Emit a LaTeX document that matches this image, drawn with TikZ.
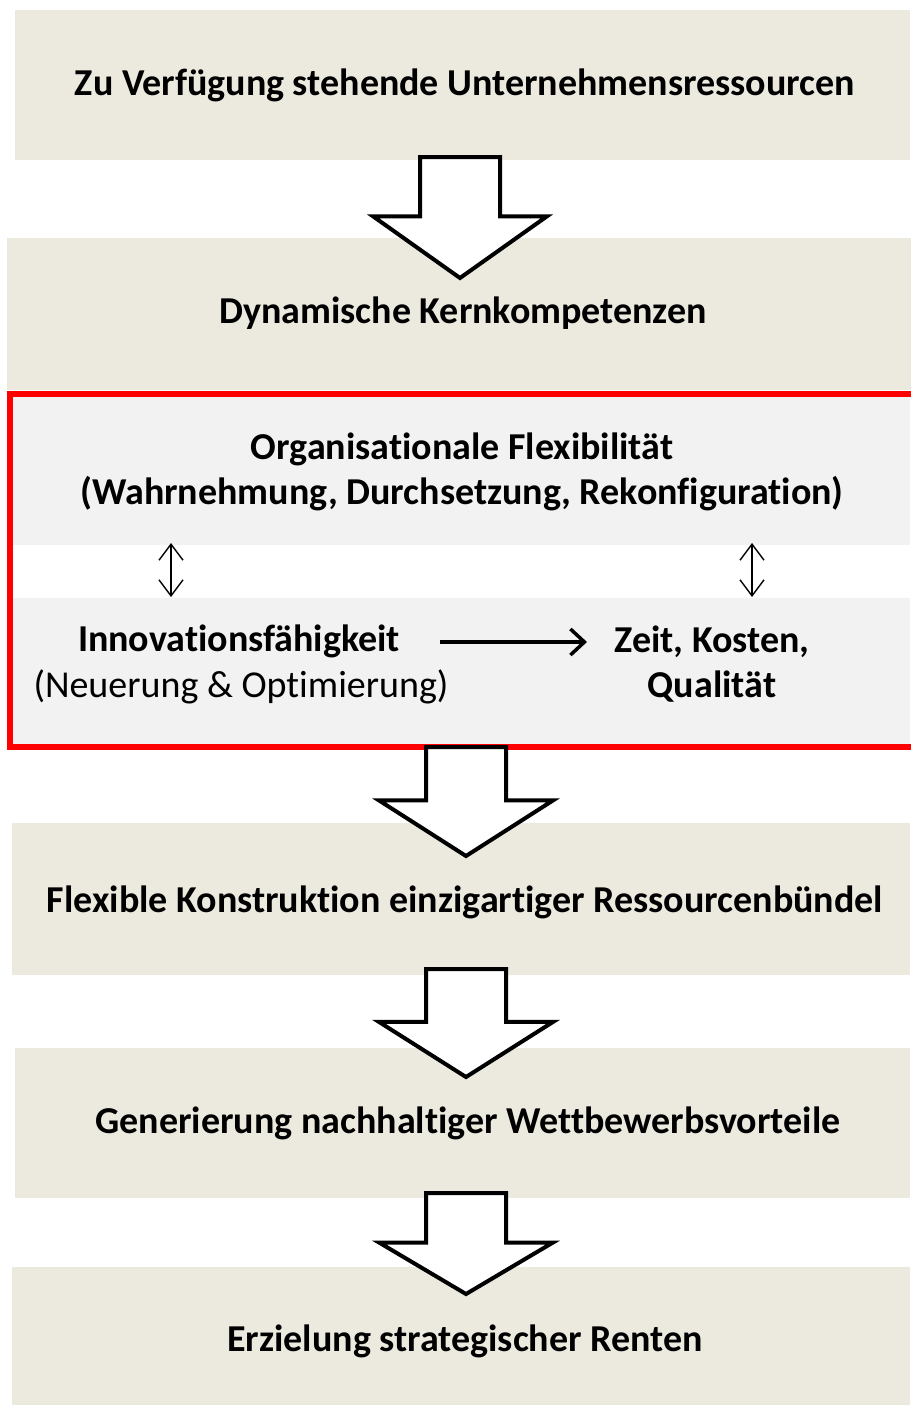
\documentclass[tikz,border=0pt]{standalone}
\usepackage{fontspec}
\setmainfont{Carlito}[Ligatures=NoCommon]
\usetikzlibrary{arrows.meta,calc}

\definecolor{stagebg}{HTML}{ECE9DF}
\definecolor{innerbg}{HTML}{F2F2F2}
\definecolor{frame}{HTML}{FF0000}

\tikzset{
  stagebox/.style={fill=stagebg, draw=none, inner sep=0pt, anchor=north west},
  innerbox/.style={fill=innerbg, draw=none, inner sep=0pt, anchor=north west},
  label/.style={font=\fontsize{38}{45}\selectfont\bfseries, inner sep=0pt, align=center},
  sublabel/.style={font=\fontsize{38}{45}\selectfont, inner sep=0pt, align=center},
  blockarrow/.style={draw=black, fill=white, line width=4pt, line join=miter},
  twoway/.style={line width=1.4pt, {Straight Barb[length=16pt,width=24pt,line width=1.4pt]}-{Straight Barb[length=16pt,width=24pt,line width=1.4pt]}},
  leadsto/.style={line width=3.5pt, -{Straight Barb[length=14pt,width=26pt,line width=3.5pt]}},
  redframe/.style={draw=frame, line width=6pt}
}

% hollow downward block arrow from a start coordinate to its tip
\newcommand\blockarrow[2]{%
  \draw[blockarrow] let \p1=(#1), \p2=(#2), \n1={\y1+0.49*(\y2-\y1)} in
    (\x1-40pt,\y1) -- (\x1+40pt,\y1) -- (\x1+40pt,\n1) -- (\x1+87pt,\n1)
    -- (\x2,\y2) -- (\x1-87pt,\n1) -- (\x1-40pt,\n1) -- cycle;}

\begin{document}
\begin{tikzpicture}[x=1pt,y=-1pt]
\useasboundingbox (0,0) rectangle (910,1405);
\fill[white] (0,0) rectangle (910,1405);

% stage boxes
\node[stagebox, minimum width=895pt, minimum height=150pt] (b1) at (15,10) {};
\node[stagebox, minimum width=905pt, minimum height=152pt] (b2) at (7,238) {};
\node[innerbox, minimum width=900pt, minimum height=150pt] (flex) at (10,395) {};
\node[innerbox, minimum width=900pt, minimum height=148pt] (inno) at (10,598) {};
\node[stagebox, minimum width=898pt, minimum height=152pt] (b3) at (12,823) {};
\node[stagebox, minimum width=895pt, minimum height=150pt] (b4) at (15,1048) {};
\node[stagebox, minimum width=898pt, minimum height=150pt] (b5) at (12,1267) {};

% red frame around the flexibility block (open to the right page edge)
\draw[redframe] (10,394) rectangle (920,746.5);

% texts
\node[label] (t1) at (465,85) {Zu Verfügung stehende Unternehmensressourcen};
\node[label] (t2) at (463,313) {Dynamische Kernkompetenzen};
\node[label] (t3) at (462,472) {Organisationale Flexibilität\\(Wahrnehmung, Durchsetzung, Rekonfiguration)};
\node[label] (t4) at (239,641) {Innovationsfähigkeit};
\node[sublabel] (t4b) at (241,687) {(Neuerung \& Optimierung)};
\node[label] (t5) at (712,664) {Zeit, Kosten,\\Qualität};
\node[label] (t6) at (465,902) {Flexible Konstruktion einzigartiger Ressourcenbündel};
\node[label] (t7) at (468,1123) {Generierung nachhaltiger Wettbewerbsvorteile};
\node[label] (t8) at (465,1341) {Erzielung strategischer Renten};

% arrows inside the frame
\coordinate (lu) at (171,543);
\coordinate (ll) at (171,597);
\coordinate (ru) at (752,543);
\coordinate (rl) at (752,597);
\draw[twoway] (lu) -- (ll);
\draw[twoway] (ru) -- (rl);
\coordinate (hs) at (440,642);
\coordinate (he) at (587,642);
\draw[leadsto] (hs) -- (he);

% block arrows between the stages
\coordinate (a1s) at (460,157);
\coordinate (a1e) at (460,278);
\coordinate (a2s) at (466,747);
\coordinate (a2e) at (466,856);
\coordinate (a3s) at (466,969);
\coordinate (a3e) at (466,1077);
\coordinate (a4s) at (466,1193);
\coordinate (a4e) at (466,1294);
\blockarrow{a1s}{a1e}
\blockarrow{a2s}{a2e}
\blockarrow{a3s}{a3e}
\blockarrow{a4s}{a4e}
\end{tikzpicture}
\end{document}
